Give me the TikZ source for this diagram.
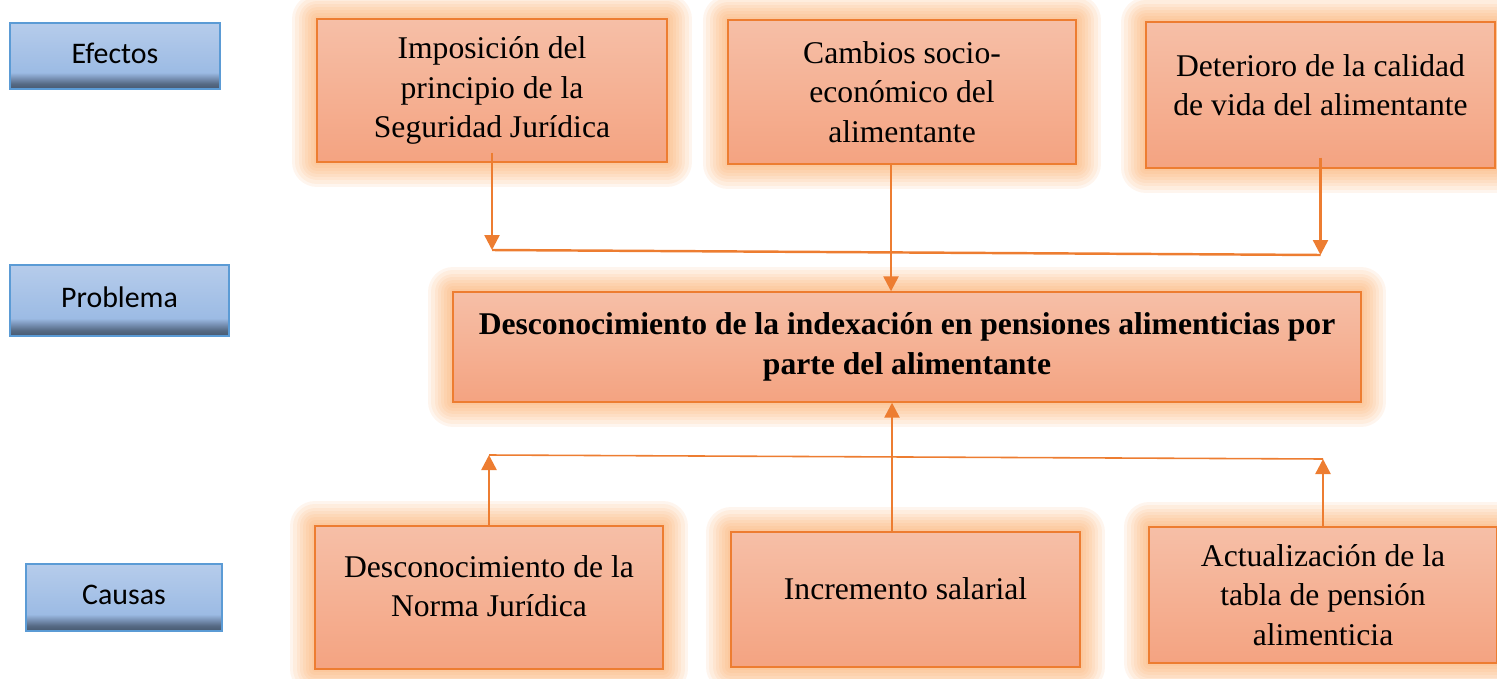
\documentclass[tikz,border=0pt]{standalone}
\usepackage{fontspec}
\setmainfont{Liberation Serif}
\newfontfamily\labelfont{Carlito}
\usetikzlibrary{arrows.meta}
\definecolor{boxline}{RGB}{237,125,49}
\definecolor{boxtop}{RGB}{246,191,167}
\definecolor{boxbottom}{RGB}{244,163,129}
\definecolor{glow}{RGB}{250,160,85}
\definecolor{tagline}{RGB}{91,155,213}
\definecolor{tagtop}{RGB}{182,204,235}
\definecolor{taglight}{RGB}{156,187,228}
\definecolor{tagmid}{RGB}{118,143,178}
\definecolor{tagdeep}{RGB}{86,106,132}
\definecolor{tagdark}{RGB}{70,88,112}
\pgfdeclareverticalshading{tagshade}{100bp}{color(0bp)=(tagdark); color(25bp)=(tagdark); color(29bp)=(tagdeep); color(33bp)=(tagmid); color(37.5bp)=(taglight); color(75bp)=(tagtop); color(100bp)=(tagtop)}
\tikzset{
  tag/.style = {draw=tagline, line width=0.8pt, shading=tagshade, shading angle=0,
    text depth=0.12cm, font=\labelfont\fontsize{17}{20}\selectfont},
  box/.style = {draw=boxline, line width=0.8pt, top color=boxtop, bottom color=boxbottom,
    align=center, font=\fontsize{18}{22.5}\selectfont,
    preaction={draw=glow, line width=1.0cm, opacity=0.1, line join=round},
    preaction={draw=glow, line width=0.87cm, opacity=0.1, line join=round},
    preaction={draw=glow, line width=0.74cm, opacity=0.1, line join=round},
    preaction={draw=glow, line width=0.61cm, opacity=0.1, line join=round},
    preaction={draw=glow, line width=0.48cm, opacity=0.1, line join=round},
    preaction={draw=glow, line width=0.36cm, opacity=0.1, line join=round},
    preaction={draw=glow, line width=0.24cm, opacity=0.1, line join=round},
    preaction={draw=glow, line width=0.12cm, opacity=0.1, line join=round}},
  link/.style = {draw=boxline, line width=1.4pt},
  thinlink/.style = {draw=boxline, line width=0.9pt}
}
\tikzset{>={Triangle[length=3mm,width=3mm]}}

\begin{document}
\begin{tikzpicture}[x=0.02cm,y=-0.02cm]
  \useasboundingbox (0,0) rectangle (1497,679);
  % row labels
  \node[tag, minimum width=4.2cm, minimum height=1.32cm] (efectos) at (115,56) {Efectos};
  \node[tag, minimum width=4.38cm, minimum height=1.42cm] (problema) at (119.5,300.5) {Problema};
  \node[tag, minimum width=3.92cm, minimum height=1.34cm] (causas) at (124,597.5) {Causas};
  % effects
  \node[box, minimum width=7cm, minimum height=2.86cm] (E1) at (492,90.5) {Imposición del\\principio de la\\Seguridad Jurídica};
  \node[box, minimum width=6.96cm, minimum height=2.88cm] (E2) at (902,92) {Cambios socio-\\económico del\\alimentante};
  \node[box, minimum width=6.98cm, minimum height=2.92cm, text depth=0.4cm] (E3) at (1320.5,95) {Deterioro de la calidad\\de vida del alimentante};
  % problem
  \node[box, minimum width=18.16cm, minimum height=2.2cm] (P) at (907,347) {\bfseries Desconocimiento de la indexación en pensiones alimenticias por\\\bfseries parte del alimentante};
  % causes
  \node[box, minimum width=6.96cm, minimum height=2.86cm, text depth=0.45cm] (C1) at (489,597.5) {Desconocimiento de la\\Norma Jurídica};
  \node[box, minimum width=6.98cm, minimum height=2.7cm, text depth=0.45cm] (C2) at (905.5,599.5) {Incremento salarial};
  \node[box, minimum width=6.96cm, minimum height=2.72cm] (C3) at (1323,595) {Actualización de la\\tabla de pensión\\alimenticia};
  % effects to problem
  \coordinate (topL) at (0,250);
  \coordinate (topR) at (0,255);
  \draw[link,->] ([yshift=2mm]E1.south) -- (E1.south |- topL);
  \draw[link] (E1.south |- topL) -- (E3.south |- topR);
  \draw[link,->] ([yshift=2.2mm]E3.south) -- (E3.south |- topR);
  \draw[link,->] ([xshift=-2.2mm]E2.south) -- ([xshift=-2.2mm]E2.south |- P.north);
  % causes to problem
  \coordinate (botL) at (0,455);
  \coordinate (botR) at (0,459);
  \draw[link,->] (C1.north) -- (C1.north |- botL);
  \draw[thinlink] (C1.north |- botL) -- (C3.north |- botR);
  \draw[link,->] (C3.north) -- (C3.north |- botR);
  \draw[link,->] ([xshift=-2.7mm]C2.north) -- ([xshift=-2.7mm]C2.north |- P.south);
\end{tikzpicture}
\end{document}
